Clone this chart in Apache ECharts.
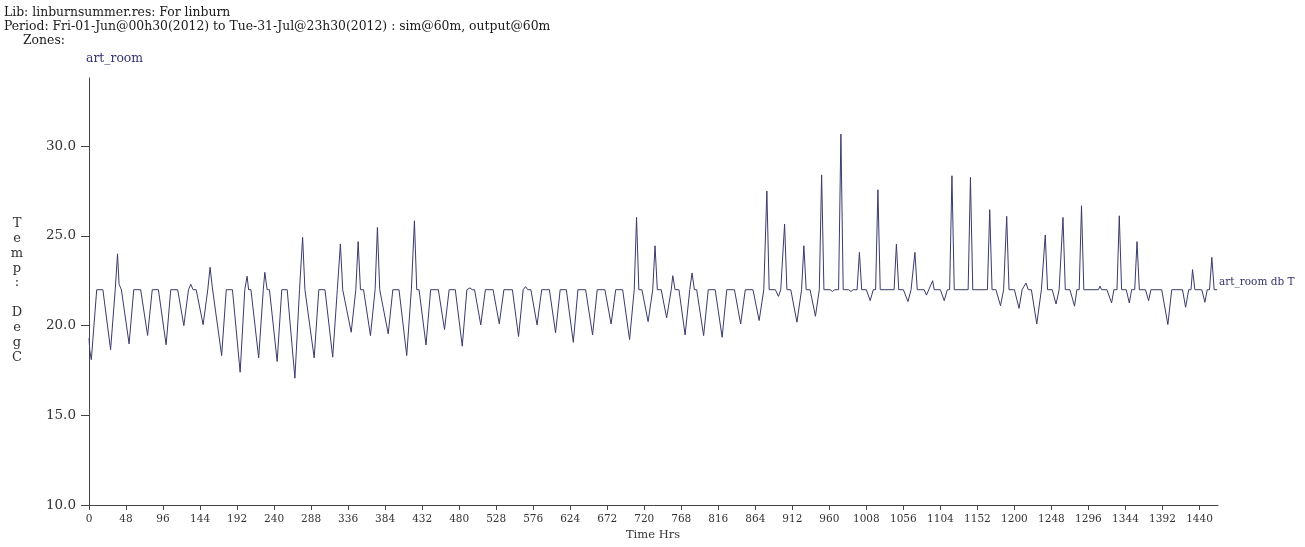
<!DOCTYPE html>
<html>
<head>
<meta charset="utf-8">
<title>art_room db T</title>
<script src="https://cdn.jsdelivr.net/npm/echarts@6/dist/echarts.min.js"></script>
<style>
    html, body { margin: 0; padding: 0; background: #fff; }
    #main { width: 1305px; height: 547px; }
</style>
</head>
<body>
<div id="main"></div>
<script>
// tick positions of the two axes
var xTicks = [0, 48, 96, 144, 192, 240, 288, 336, 384, 432, 480, 528, 576, 624, 672, 720,
    768, 816, 864, 912, 960, 1008, 1056, 1104, 1152, 1200, 1248, 1296, 1344, 1392, 1440];
var yTicks = [10, 15, 20, 25, 30];

// art_room db T, [hour, degC] (turning points only)
var week1 = [[0,19.3],[1,18.6],[3,18.1],[4,18.1],[10,22],[18,22],
    [28,18.66],[34,22],[37,24.0],[39,22.3],[42,22],
    [52,18.98],[58,22],[67,22],
    [76,19.45],[82,22],[90,22],
    [100,18.93],[106,22],[115,22],
    [123,20.0],[129,22],[132,22.3],[135,22],[139,22],
    [148,20.05],[154,22],[157,23.25],[160,22.1],[162,22]];
var week2 = [[172,18.33],[178,22],[186,22],
    [196,17.4],[202,22],[205,22.75],[207,22],[210,22],
    [220,18.2],[226,22],[228,22.97],[231,22],[234,22],
    [244,18.0],[250,22],[257,22],
    [267,17.07],[273,22],[277,24.92],[280,22],[282,22],
    [292,18.2],[298,22],[306,22],
    [316,18.24],[322,22],[326,24.55],[329,22],[331,22]];
var week3 = [[340,19.63],[346,22],[349,24.68],[352,22],[356,22],
    [365,19.44],[371,22],[374,25.47],[377,22],[379,22],
    [388,19.54],[394,22],[402,22],
    [412,18.33],[418,22],[422,25.84],[425,22],[428,22],
    [437,18.92],[443,22],[453,22],
    [461,19.78],[467,22],[475,22],
    [484,18.85],[490,22],[494,22.1],[497,22],[500,22]];
var week4 = [[508,20.04],[514,22],[524,22],
    [532,20.1],[538,22],[549,22],
    [557,19.39],[563,22],[566,22.17],[569,22],[573,22],
    [581,20.04],[587,22],[597,22],
    [605,19.6],[611,22],[619,22],
    [628,19.07],[634,22],[644,22],
    [653,19.48],[659,22],[669,22]];
var week5 = [[677,20.09],[683,22],[692,22],
    [701,19.22],[707,22],[710,26.03],[713,22],[717,22],
    [725,20.22],[731,22],[734,24.45],[737,22],[742,22],
    [749,20.43],[755,22],[757,22.78],[760,22],[765,22],
    [773,19.48],[779,22],[782,22.93],[785,22],[788,22],
    [797,19.44],[803,22],[812,22],
    [821,19.35],[827,22],[837,22]];
var week6 = [[845,20.09],[851,22],[861,22],
    [869,20.28],[875,22],[879,27.5],[882,22],[890,22],
    [894,21.63],[897,22],[899,22],[902,25.66],[905,22],[910,22],
    [918,20.19],[924,22],[927,24.45],[930,22],[935,22],
    [942,20.52],[947,22],[950,28.4],[953,22],[961,22],
    [964,21.9],[967,22],[972,22],[975,30.67],[978,22],[985,22],
    [988,21.9],[991,22],[996,22],[999,24.08],[1002,22],[1008,22]];
var week7 = [[1013,21.39],[1017,22],[1020,22],[1023,27.57],[1026,22],
    [1044,22],[1047,24.55],[1050,22],[1056,22],
    [1062,21.34],[1066,22],[1068,22],[1071,24.08],[1074,22],[1083,22],
    [1086,21.7],[1089,22],[1091,22],[1094,22.5],[1096,22],[1104,22],
    [1109,21.39],[1113,22],[1116,22],[1119,28.35],[1122,22],
    [1140,22],[1143,28.26],[1146,22],
    [1165,22],[1168,26.46],[1171,22],[1176,22]];
var week8 = [[1182,21.11],[1186,22],[1187,22],[1190,26.09],[1193,22],[1200,22],
    [1206,20.96],[1210,22],[1212,22],[1215,22.37],[1218,22],[1222,22],
    [1229,20.09],[1235,22],[1237,22],[1240,25.05],[1243,22],[1249,22],
    [1254,21.2],[1258,22],[1260,22],[1263,26.03],[1266,22],[1272,22],
    [1278,21.08],[1281,22],[1284,22],[1287,26.68],[1290,22],
    [1309,22],[1311,22.2],[1313,22],[1320,22],
    [1326,21.26],[1329,22],[1333,22],[1336,26.12],[1339,22],[1345,22]];
var week9 = [[1349,21.26],[1352,22],[1356,22],[1359,24.68],[1362,22],[1370,22],
    [1374,21.39],[1377,22],[1391,22],
    [1399,20.06],[1404,22],[1418,22],
    [1422,21.02],[1426,22],[1429,22],[1431,23.12],[1434,22],[1443,22],
    [1447,21.3],[1450,22],[1453,22],[1456,23.8],[1459,22],[1463,22]];

var artRoom = week1.concat(week2, week3, week4, week5, week6, week7, week8, week9);

var serif = '"DejaVu Serif", "Liberation Serif", serif';
var axisColor = '#444';

var chart = echarts.init(document.getElementById('main'));

var option = {
    animation: false,
    backgroundColor: '#fff',
    grid: { left: 89, right: 87, top: 78, bottom: 42, outerBoundsMode: 'none' },
    xAxis: {
        type: 'value',
        min: 0,
        max: 1464,
        axisLine: { onZero: false, lineStyle: { color: axisColor, width: 1 } },
        axisTick: { customValues: xTicks, length: 5, lineStyle: { color: axisColor } },
        axisLabel: {
            customValues: xTicks, margin: 9, color: '#333', fontFamily: serif, fontSize: 10.5,
            // plain hours, no thousands separator
            formatter: function (v) { return String(v); }
        },
        splitLine: { show: false }
    },
    yAxis: {
        type: 'value',
        min: 10,
        max: 33.8,
        axisLine: { show: true, lineStyle: { color: axisColor, width: 1 } },
        axisTick: { show: true, customValues: yTicks, length: 8, lineStyle: { color: axisColor } },
        axisLabel: {
            customValues: yTicks, margin: 13, color: '#333', fontFamily: serif, fontSize: 13.5,
            formatter: function (v) { return v.toFixed(1); }
        },
        splitLine: { show: false }
    },
    graphic: [
        // header lines
        { type: 'text', x: 4, y: 13, style: { text: 'Lib: linburnsummer.res: For linburn', fontFamily: serif, fontSize: 12.4, fill: '#1a1a1a', verticalAlign: 'middle' } },
        { type: 'text', x: 4, y: 27, style: { text: 'Period: Fri-01-Jun@00h30(2012) to Tue-31-Jul@23h30(2012) : sim@60m, output@60m', fontFamily: serif, fontSize: 12.4, fill: '#1a1a1a', verticalAlign: 'middle' } },
        { type: 'text', x: 23, y: 41, style: { text: 'Zones:', fontFamily: serif, fontSize: 12.4, fill: '#1a1a1a', verticalAlign: 'middle' } },
        { type: 'text', x: 86, y: 59, style: { text: 'art_room', fontFamily: serif, fontSize: 12.4, fill: '#35356e', verticalAlign: 'middle' } },
        // y axis name, one letter per line
        { type: 'text', x: 17, y: 216, style: { text: 'T\ne\nm\np\n:\n \nD\ne\ng\nC', fontFamily: serif, fontSize: 13, lineHeight: 14.9, fill: '#333', align: 'center', verticalAlign: 'top' } },
        // x axis name
        { type: 'text', x: 653, y: 535, style: { text: 'Time Hrs', fontFamily: serif, fontSize: 11.5, fill: '#333', align: 'center', verticalAlign: 'middle' } },
        // series label at the end of the line
        { type: 'text', x: 1219, y: 282, style: { text: 'art_room db T', fontFamily: serif, fontSize: 10.5, fill: '#35356e', verticalAlign: 'middle' } }
    ],
    series: [{
        name: 'art_room db T',
        type: 'line',
        data: artRoom,
        showSymbol: false,
        silent: true,
        lineStyle: { color: '#3a3a6c', width: 1 }
    }]
};

chart.setOption(option);
</script>
</body>
</html>
